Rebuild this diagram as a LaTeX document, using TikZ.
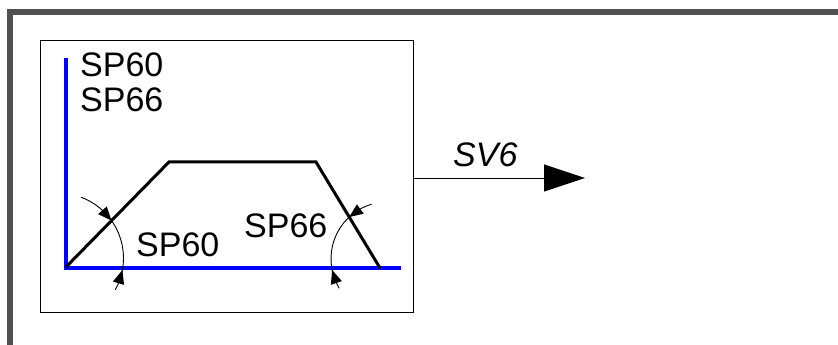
\documentclass[tikz,border=0pt]{standalone}
\usepackage{fontspec}
\setmainfont{Liberation Sans}
\usetikzlibrary{arrows.meta,calc}
\definecolor{framegray}{RGB}{80,80,80}
\tikzset{
  lbl/.style={anchor=base west,inner sep=0pt,font=\fontsize{34}{38}\selectfont},
  thinline/.style={line width=0.9pt,black},
  axis/.style={line width=4pt,blue,line join=miter},
  curve/.style={line width=3pt,black,line join=miter}
}
% filled arrow tip on a circle: center, radius, tip angle, base angle
\newcommand{\angtip}[4]{%
  \coordinate (tipT) at ($(#1)+(#3:#2)$);
  \coordinate (tipB) at ($(#1)+(#4:#2)$);
  \fill[black] (tipT) -- ($(tipB)!5.8pt!90:(tipT)$) -- ($(tipB)!5.8pt!-90:(tipT)$) -- cycle;}
\begin{document}
\begin{tikzpicture}[x=1pt,y=1pt]
\useasboundingbox (0,0) rectangle (838,345);
\fill[white] (0,0) rectangle (838,345);
% outer frame (top and left visible)
\draw[line width=6pt,framegray,line join=miter] (10,-5) -- (10,333) -- (845,333);
% inner box
\node[draw,thinline,minimum width=373pt,minimum height=272pt,inner sep=0pt,anchor=north west] (box) at (40,305) {};
% axes
\coordinate (o) at (66,77);
\coordinate (ytop) at (66,287);
\coordinate (xend) at (401,77);
\draw[axis] (ytop) -- (o) -- (xend);
% trapezoid
\coordinate (p0) at (66,78);
\coordinate (p1) at (169,183);
\coordinate (p2) at (316,183);
\coordinate (p3) at (380,77);
\draw[curve] (p0) -- (p1) -- (p2) -- (p3);
% left angle dimension
\coordinate (cl) at (58.5,86.8);
\draw[thinline] ($(cl)+(69.8:65pt)$) arc[start angle=69.8,end angle=-29.1,radius=65pt];
\angtip{cl}{65pt}{35.4}{47.5}
\angtip{cl}{65pt}{-10.5}{-22.6}
% right angle dimension
\coordinate (cr) at (388,86.2);
\draw[thinline] ($(cr)+(106.7:57pt)$) arc[start angle=106.7,end angle=211.2,radius=57pt];
\angtip{cr}{57pt}{132.9}{119.1}
\angtip{cr}{57pt}{191.3}{205.1}
% labels
\node[lbl] (t1) at (80,268.5) {SP60};
\node[lbl] (t2) at (80,233) {SP66};
\node[lbl] (t3) at (136,88) {SP60};
\node[lbl] (t4) at (244,107.3) {SP66};
% output arrow
\coordinate (outstart) at (box.east |- 0,167);
\coordinate (outend) at (585,167);
\draw[thinline,-{Triangle[length=41pt,width=27pt]}] (outstart) -- (outend);
\node[lbl,font=\fontsize{34}{38}\selectfont\itshape] (sv) at (453,178) {SV6};
\end{tikzpicture}
\end{document}
